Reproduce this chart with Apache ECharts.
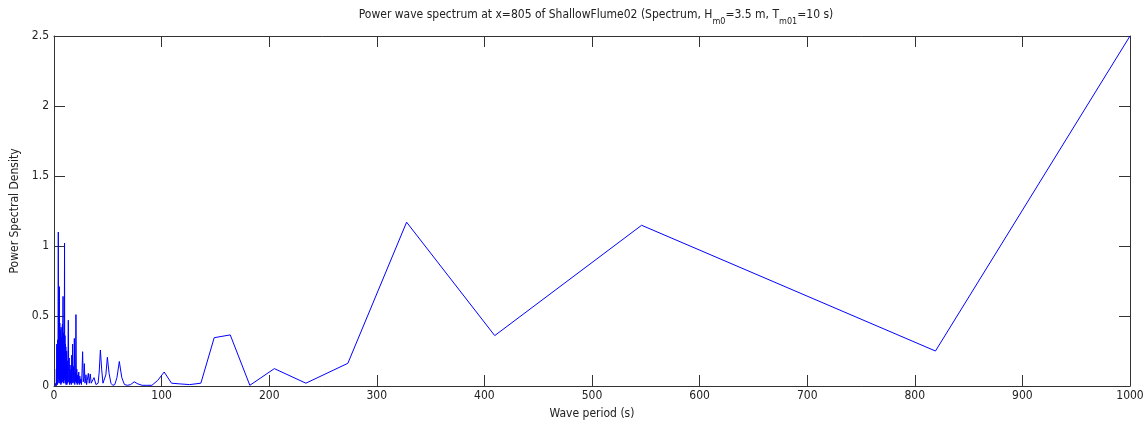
<!DOCTYPE html>
<html>
<head>
<meta charset="utf-8">
<title>Power wave spectrum</title>
<script src="https://cdn.jsdelivr.net/npm/echarts@6/dist/echarts.min.js"></script>
<style>
  html, body { margin: 0; padding: 0; background: #fff; }
  #chart { width: 1148px; height: 425px; }
</style>
</head>
<body>
<div id="chart"></div>
<script>
// Wave period (s) of each spectral line
const periods = [
  1.0, 1.6, 1.8, 2.0, 2.2, 2.4, 2.6, 2.8, 3.0, 3.2, 3.4, 3.6, 3.8, 4.0, 4.2, 4.4, 4.6, 4.8,
  5.0, 5.2, 5.4, 5.6, 5.8, 6.0, 6.2, 6.4, 6.6, 6.8, 7.0, 7.2, 7.4, 7.6, 7.8, 8.0, 8.2, 8.4,
  8.6, 8.8, 9.0, 9.2, 9.4, 9.6, 9.8, 10.0, 10.2, 10.4, 10.6, 10.8, 11.0, 11.2, 11.4, 11.6,
  11.8, 12.0, 12.4, 12.8, 13.3, 13.7, 14.1, 14.5, 14.9, 15.3, 15.7, 16.1, 16.5, 16.9, 17.3,
  17.7, 18.1, 18.5, 18.9, 19.3, 19.7, 20.0, 20.4, 20.8, 21.2, 21.6, 22.0, 22.5, 23.0, 23.5,
  24.0, 24.5, 25.0, 25.5, 26.0, 26.6, 27.2, 27.8, 28.2, 28.8, 29.4, 29.7, 30.3, 30.9, 31.9,
  32.8, 33.7, 34.6, 35.6, 36.4, 37.2, 38.1, 39.0, 40.0, 41.0, 42.0, 43.1, 44.3, 45.5, 46.8,
  48.2, 49.6, 51.2, 52.9, 54.6, 56.5, 58.5, 60.7, 63.0, 65.5, 68.3, 71.2, 74.5, 78.0, 81.9,
  86.2, 91.0, 96.4, 102.4, 109.2, 117.0, 126.0, 136.5, 148.9, 163.8, 182.0, 204.8, 234.1,
  273.1, 327.7, 409.6, 546.1, 819.2, 1000.0
];

// Power spectral density at each period
const psd = [
  0.00, 0.00, 0.02, 0.00, 0.12, 0.01, 0.30, 0.02, 0.28, 0.01, 0.33, 0.03, 0.42, 1.10, 0.05, 0.48, 0.02, 0.52,
  0.71, 0.04, 0.45, 0.02, 0.40, 0.03, 0.38, 0.01, 0.42, 0.04, 0.35, 0.02, 0.30, 0.03, 0.44, 0.05, 0.36, 0.64,
  0.03, 0.38, 0.02, 0.33, 0.04, 0.45, 1.02, 0.06, 0.36, 0.02, 0.30, 0.03, 0.28, 0.01, 0.22, 0.02,
  0.25, 0.01, 0.18, 0.02, 0.47, 0.03, 0.20, 0.01, 0.15, 0.02, 0.12, 0.01, 0.22, 0.02, 0.30,
  0.03, 0.14, 0.02, 0.34, 0.01, 0.10, 0.03, 0.51, 0.02, 0.12, 0.01, 0.08, 0.02, 0.10, 0.01,
  0.07, 0.02, 0.05, 0.01, 0.09, 0.245, 0.03, 0.06, 0.16, 0.02, 0.05, 0.08, 0.01, 0.04, 0.09,
  0.02, 0.086, 0.02, 0.03, 0.01, 0.06, 0.05, 0.01, 0.01, 0.02, 0.10, 0.257, 0.12, 0.02, 0.01,
  0.08, 0.205, 0.09, 0.02, 0.005, 0.01, 0.06, 0.175, 0.06, 0.01, 0.005, 0.01, 0.03, 0.015, 0.005,
  0.005, 0.005, 0.04, 0.10, 0.02, 0.015, 0.01, 0.02, 0.345, 0.365, 0.005, 0.124, 0.02,
  0.162, 1.17, 0.36, 1.148, 0.25, 2.5
];

const xTicks = { min: 0, max: 1000, interval: 100 };
const yTicks = { min: 0, max: 2.5, interval: 0.5 };

const FONT = "'DejaVu Sans Condensed', 'Liberation Sans', sans-serif";
const AXIS_COLOR = '#333';
const TEXT_COLOR = '#222';

const points = periods.map((p, i) => [p, psd[i]]);

const chart = echarts.init(document.getElementById('chart'), null, { renderer: 'canvas' });

const baseAxis = {
  axisLine: { show: true, onZero: false, lineStyle: { color: AXIS_COLOR, width: 1 } },
  axisTick: { show: true, inside: true, length: 11, lineStyle: { color: AXIS_COLOR, width: 1 } },
  splitLine: { show: false },
  nameTextStyle: { fontFamily: FONT, fontSize: 12, color: TEXT_COLOR },
  axisLabel: { fontFamily: FONT, fontSize: 12, color: TEXT_COLOR, formatter: v => String(v) }
};

chart.setOption({
  animation: false,
  backgroundColor: '#fff',
  title: {
    left: 591,
    textAlign: 'center',
    top: 4,
    text: '{a|Power wave spectrum at x=805 of ShallowFlume02 (Spectrum, H}{s|m0}{a|=3.5 m, T}{s|m01}{a|=10 s)}',
    textStyle: {
      fontWeight: 'normal',
      rich: {
        a: { fontFamily: FONT, fontSize: 12, fontWeight: 'normal', color: TEXT_COLOR, lineHeight: 17, verticalAlign: 'top' },
        s: { fontFamily: FONT, fontSize: 9, fontWeight: 'normal', color: TEXT_COLOR, lineHeight: 17, verticalAlign: 'bottom' }
      }
    }
  },
  grid: { left: 54, right: 18, top: 36, bottom: 39, containLabel: false },
  xAxis: [
    Object.assign({}, baseAxis, {
      type: 'value', position: 'bottom', min: xTicks.min, max: xTicks.max, interval: xTicks.interval,
      name: 'Wave period (s)', nameLocation: 'middle', nameGap: 22,
      axisLabel: Object.assign({}, baseAxis.axisLabel, { margin: 4 })
    }),
    Object.assign({}, baseAxis, {
      type: 'value', position: 'top', min: xTicks.min, max: xTicks.max, interval: xTicks.interval,
      axisLabel: { show: false }
    })
  ],
  yAxis: [
    Object.assign({}, baseAxis, {
      type: 'value', position: 'left', min: yTicks.min, max: yTicks.max, interval: yTicks.interval,
      name: 'Power Spectral Density', nameLocation: 'middle', nameGap: 32,
      axisLabel: Object.assign({}, baseAxis.axisLabel, { margin: 5 })
    }),
    Object.assign({}, baseAxis, {
      type: 'value', position: 'right', min: yTicks.min, max: yTicks.max, interval: yTicks.interval,
      axisLabel: { show: false }
    })
  ],
  series: [{
    type: 'line',
    xAxisIndex: 0,
    yAxisIndex: 0,
    data: points,
    showSymbol: false,
    symbol: 'none',
    lineStyle: { color: '#0000ff', width: 1 },
    clip: true
  }]
});
</script>
</body>
</html>
